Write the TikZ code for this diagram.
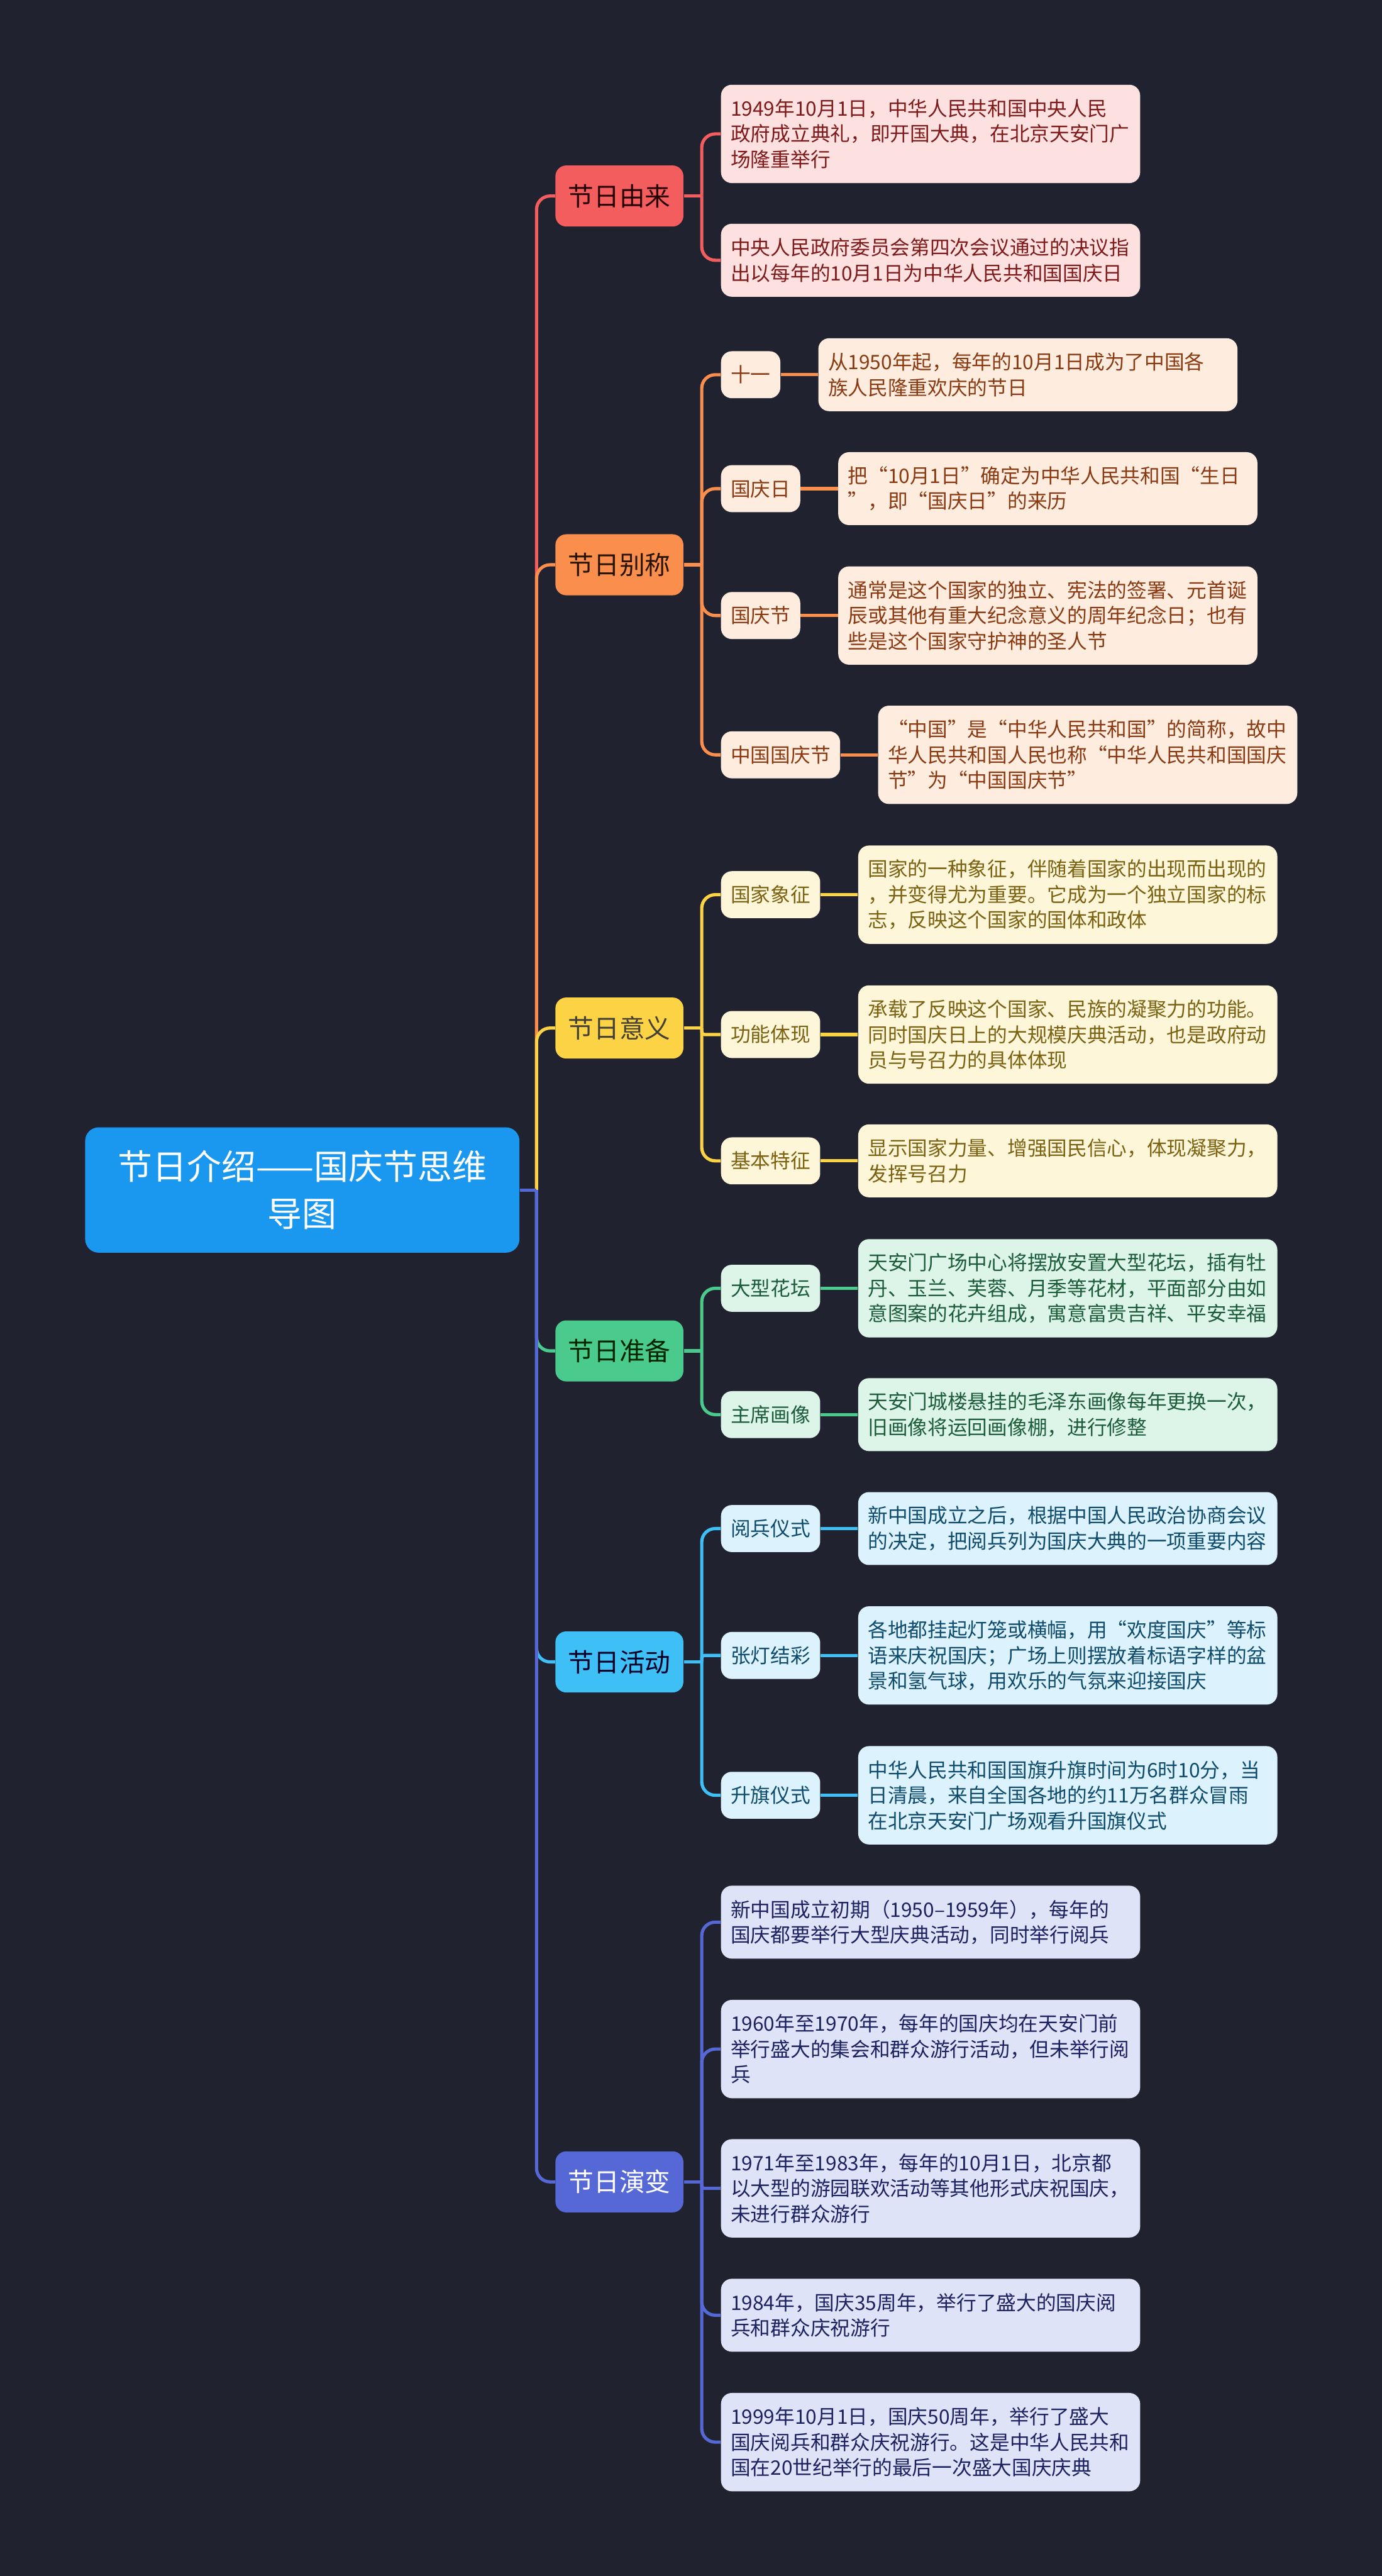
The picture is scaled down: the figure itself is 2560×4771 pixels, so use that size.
\documentclass[tikz,border=0pt]{standalone}
\usepackage{fontspec}
\newfontfamily\cjk{Noto Sans CJK SC}
\usetikzlibrary{positioning}
\definecolor{bg}{HTML}{20232F}
\definecolor{rootc}{HTML}{1A98EF}
\definecolor{redc}{HTML}{F45D5D}
\definecolor{redf}{HTML}{FDE1E1}
\definecolor{redt}{HTML}{7F1A1A}
\definecolor{orc}{HTML}{FA8E4D}
\definecolor{orf}{HTML}{FEECDF}
\definecolor{ort}{HTML}{8A3A12}
\definecolor{yec}{HTML}{FDD346}
\definecolor{yef}{HTML}{FEF6D8}
\definecolor{yet}{HTML}{7A6212}
\definecolor{grc}{HTML}{4BCA8D}
\definecolor{grf}{HTML}{DDF5E8}
\definecolor{grt}{HTML}{1C5C3A}
\definecolor{blc}{HTML}{3EBFF6}
\definecolor{blf}{HTML}{DCF2FD}
\definecolor{blt}{HTML}{0F4B6C}
\definecolor{inc}{HTML}{5568D5}
\definecolor{inf}{HTML}{DFE3F7}
\definecolor{int}{HTML}{1C2260}
\begin{document}
\begin{tikzpicture}[x=0.01cm,y=-0.01cm,
  leaf/.style={rounded corners=0.2cm, inner ysep=0pt, inner xsep=0.18cm, anchor=west, align=left,
    text width=7.40cm, font=\cjk\fontsize{10.5}{13.4}\selectfont},
  two/.style={minimum height=1.35cm},
  three/.style={minimum height=1.82cm},
  mid/.style={rounded corners=0.2cm, inner ysep=0pt, inner xsep=0.18cm, anchor=west,
    minimum height=0.87cm, font=\cjk\fontsize{10.5}{13.4}\selectfont},
  branch/.style={rounded corners=0.2cm, minimum width=2.37cm, minimum height=1.13cm, inner sep=0pt,
    font=\cjk\fontsize{13.5}{16}\selectfont},
  link/.style={line width=1.7pt, rounded corners=0.25cm},
  tight/.style={line width=1.7pt, rounded corners=0.05cm},
]
\useasboundingbox (0,0) rectangle (2560,4771);
\fill[bg] (0,0) rectangle (2560,4771);

% root
\node[rounded corners=0.25cm, fill=rootc, text=white, minimum width=8.04cm, minimum height=2.32cm,
  align=center, font=\cjk\fontsize{18.2}{24.7}\selectfont] (root) at (560,2204)
  {节日介绍——国庆节思维\\导图};

% branches
\node[branch, fill=redc, text=black!85!red] (b1) at (1147.5,363) {节日由来};
\node[branch, fill=orc, text=black!85!orange] (b2) at (1147.5,1046) {节日别称};
\node[branch, fill=yec, text=black!85!yellow] (b3) at (1147.5,1904) {节日意义};
\node[branch, fill=grc, text=black!85!green] (b4) at (1147.5,2502) {节日准备};
\node[branch, fill=blc, text=black!85!blue] (b5) at (1147.5,3078) {节日活动};
\node[branch, fill=inc, text=white] (b6) at (1147.5,4041) {节日演变};

% red
\node[leaf, three, fill=redf, text=redt] (r1) at (1335,248) {1949年10月1日，中华人民共和国中央人民\\政府成立典礼，即开国大典，在北京天安门广\\场隆重举行};
\node[leaf, two, fill=redf, text=redt] (r2) at (1335,482) {中央人民政府委员会第四次会议通过的决议指\\出以每年的10月1日为中华人民共和国国庆日};

% orange
\node[mid, fill=orf, text=ort] (o1m) at (1335,694) {十一};
\node[leaf, two, fill=orf, text=ort, right=0.69cm of o1m] (o1) {从1950年起，每年的10月1日成为了中国各\\族人民隆重欢庆的节日};
\node[mid, fill=orf, text=ort] (o2m) at (1335,905) {国庆日};
\node[leaf, two, fill=orf, text=ort, right=0.69cm of o2m] (o2) {把“10月1日”确定为中华人民共和国“生日\\”，即“国庆日”的来历};
\node[mid, fill=orf, text=ort] (o3m) at (1335,1140) {国庆节};
\node[leaf, three, fill=orf, text=ort, right=0.69cm of o3m] (o3) {通常是这个国家的独立、宪法的签署、元首诞\\辰或其他有重大纪念意义的周年纪念日；也有\\些是这个国家守护神的圣人节};
\node[mid, fill=orf, text=ort] (o4m) at (1335,1398) {中国国庆节};
\node[leaf, three, fill=orf, text=ort, right=0.69cm of o4m] (o4) {“中国”是“中华人民共和国”的简称，故中\\华人民共和国人民也称“中华人民共和国国庆\\节”为“中国国庆节”};

% yellow
\node[mid, fill=yef, text=yet] (y1m) at (1335,1657) {国家象征};
\node[leaf, three, fill=yef, text=yet, right=0.69cm of y1m] (y1) {国家的一种象征，伴随着国家的出现而出现的\\，并变得尤为重要。它成为一个独立国家的标\\志，反映这个国家的国体和政体};
\node[mid, fill=yef, text=yet] (y2m) at (1335,1916) {功能体现};
\node[leaf, three, fill=yef, text=yet, right=0.69cm of y2m] (y2) {承载了反映这个国家、民族的凝聚力的功能。\\同时国庆日上的大规模庆典活动，也是政府动\\员与号召力的具体体现};
\node[mid, fill=yef, text=yet] (y3m) at (1335,2150) {基本特征};
\node[leaf, two, fill=yef, text=yet, right=0.69cm of y3m] (y3) {显示国家力量、增强国民信心，体现凝聚力，\\发挥号召力};

% green
\node[mid, fill=grf, text=grt] (g1m) at (1335,2386) {大型花坛};
\node[leaf, three, fill=grf, text=grt, right=0.69cm of g1m] (g1) {天安门广场中心将摆放安置大型花坛，插有牡\\丹、玉兰、芙蓉、月季等花材，平面部分由如\\意图案的花卉组成，寓意富贵吉祥、平安幸福};
\node[mid, fill=grf, text=grt] (g2m) at (1335,2620) {主席画像};
\node[leaf, two, fill=grf, text=grt, right=0.69cm of g2m] (g2) {天安门城楼悬挂的毛泽东画像每年更换一次，\\旧画像将运回画像棚，进行修整};

% blue
\node[mid, fill=blf, text=blt] (c1m) at (1335,2831) {阅兵仪式};
\node[leaf, two, fill=blf, text=blt, right=0.69cm of c1m] (c1) {新中国成立之后，根据中国人民政治协商会议\\的决定，把阅兵列为国庆大典的一项重要内容};
\node[mid, fill=blf, text=blt] (c2m) at (1335,3066) {张灯结彩};
\node[leaf, three, fill=blf, text=blt, right=0.69cm of c2m] (c2) {各地都挂起灯笼或横幅，用“欢度国庆”等标\\语来庆祝国庆；广场上则摆放着标语字样的盆\\景和氢气球，用欢乐的气氛来迎接国庆};
\node[mid, fill=blf, text=blt] (c3m) at (1335,3325) {升旗仪式};
\node[leaf, three, fill=blf, text=blt, right=0.69cm of c3m] (c3) {中华人民共和国国旗升旗时间为6时10分，当\\日清晨，来自全国各地的约11万名群众冒雨\\在北京天安门广场观看升国旗仪式};

% indigo
\node[leaf, two, fill=inf, text=int] (i1) at (1335,3560) {新中国成立初期（1950–1959年），每年的\\国庆都要举行大型庆典活动，同时举行阅兵};
\node[leaf, three, fill=inf, text=int] (i2) at (1335,3795) {1960年至1970年，每年的国庆均在天安门前\\举行盛大的集会和群众游行活动，但未举行阅\\兵};
\node[leaf, three, fill=inf, text=int] (i3) at (1335,4053) {1971年至1983年，每年的10月1日，北京都\\以大型的游园联欢活动等其他形式庆祝国庆，\\未进行群众游行};
\node[leaf, two, fill=inf, text=int] (i4) at (1335,4288) {1984年，国庆35周年，举行了盛大的国庆阅\\兵和群众庆祝游行};
\node[leaf, three, fill=inf, text=int] (i5) at (1335,4523) {1999年10月1日，国庆50周年，举行了盛大\\国庆阅兵和群众庆祝游行。这是中华人民共和\\国在20世纪举行的最后一次盛大国庆庆典};

% trunk connectors
\coordinate (hub) at (994,2204);
\draw[link, redc] (hub) |- (b1.west);
\draw[link, orc] (hub) |- (b2.west);
\draw[link, yec] (hub) |- (b3.west);
\draw[link, grc] (hub) |- (b4.west);
\draw[link, blc] (hub) |- (b5.west);
\draw[link, inc] (hub) |- (b6.west);
\draw[line width=1.7pt, inc] (root.east) -- (hub);

% red
\coordinate (h1) at (1300,363);
\draw[line width=1.7pt, redc] (b1.east) -- (h1);
\draw[link, redc] (h1) |- (r1.west);
\draw[link, redc] (h1) |- (r2.west);

% orange
\coordinate (h2) at (1300,1046);
\draw[line width=1.7pt, orc] (b2.east) -- (h2);
\foreach \n in {o1m,o2m,o3m,o4m} \draw[link, orc] (h2) |- (\n.west);
\draw[line width=1.7pt, orc] (o1m.east) -- (o1.west);
\draw[line width=1.7pt, orc] (o2m.east) -- (o2.west);
\draw[line width=1.7pt, orc] (o3m.east) -- (o3.west);
\draw[line width=1.7pt, orc] (o4m.east) -- (o4.west);

% yellow
\coordinate (h3) at (1300,1904);
\draw[line width=1.7pt, yec] (b3.east) -- (h3);
\draw[link, yec] (h3) |- (y1m.west);
\draw[tight, yec] (h3) |- (y2m.west);
\draw[link, yec] (h3) |- (y3m.west);
\draw[line width=1.7pt, yec] (y1m.east) -- (y1.west);
\draw[line width=1.7pt, yec] (y2m.east) -- (y2.west);
\draw[line width=1.7pt, yec] (y3m.east) -- (y3.west);

% green
\coordinate (h4) at (1300,2502);
\draw[line width=1.7pt, grc] (b4.east) -- (h4);
\draw[link, grc] (h4) |- (g1m.west);
\draw[link, grc] (h4) |- (g2m.west);
\draw[line width=1.7pt, grc] (g1m.east) -- (g1.west);
\draw[line width=1.7pt, grc] (g2m.east) -- (g2.west);

% blue
\coordinate (h5) at (1300,3078);
\draw[line width=1.7pt, blc] (b5.east) -- (h5);
\draw[link, blc] (h5) |- (c1m.west);
\draw[tight, blc] (h5) |- (c2m.west);
\draw[link, blc] (h5) |- (c3m.west);
\draw[line width=1.7pt, blc] (c1m.east) -- (c1.west);
\draw[line width=1.7pt, blc] (c2m.east) -- (c2.west);
\draw[line width=1.7pt, blc] (c3m.east) -- (c3.west);

% indigo
\coordinate (h6) at (1300,4041);
\draw[line width=1.7pt, inc] (b6.east) -- (h6);
\draw[link, inc] (h6) |- (i1.west);
\draw[link, inc] (h6) |- (i2.west);
\draw[tight, inc] (h6) |- (i3.west);
\draw[link, inc] (h6) |- (i4.west);
\draw[link, inc] (h6) |- (i5.west);
\end{tikzpicture}
\end{document}
